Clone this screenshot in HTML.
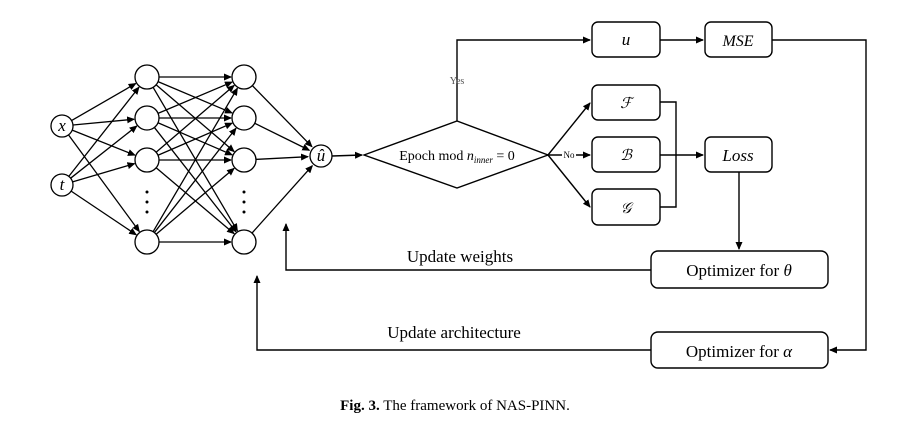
<!DOCTYPE html>
<html><head><meta charset="utf-8"><style>
body{margin:0;background:#fff;}
svg text{font-family:"Liberation Serif",serif;fill:#000;}
</style></head><body>
<svg width="909" height="436" viewBox="0 0 909 436" xmlns="http://www.w3.org/2000/svg">
<defs><marker id="ah" markerWidth="8" markerHeight="8" refX="7" refY="4" orient="auto" markerUnits="userSpaceOnUse"><path d="M0,0.5 L8,4 L0,7.5 Z" fill="#000"/></marker></defs>
<g id="net" stroke="#000" stroke-width="1.3" fill="none"></g>
<g stroke="#000" stroke-width="1.4" fill="none">
<line x1="332" y1="156" x2="362" y2="155" marker-end="url(#ah)"/>
<polygon points="364,155 457,121 548,155 457,188" fill="#fff"/>
<polyline points="457,121 457,40 590,40" marker-end="url(#ah)"/>
<line x1="548" y1="155" x2="590" y2="103" marker-end="url(#ah)"/>
<line x1="548" y1="155" x2="590" y2="155" marker-end="url(#ah)"/>
<line x1="548" y1="155" x2="590" y2="207" marker-end="url(#ah)"/>
<rect x="592" y="22" width="68" height="35" rx="6"/>
<rect x="705" y="22" width="67" height="35" rx="6"/>
<rect x="592" y="85" width="68" height="35" rx="6"/>
<rect x="592" y="137" width="68" height="35" rx="6"/>
<rect x="592" y="189" width="68" height="36" rx="6"/>
<rect x="705" y="137" width="67" height="35" rx="6"/>
<line x1="660" y1="40" x2="703" y2="40" marker-end="url(#ah)"/>
<polyline points="660,102 676,102 676,207 660,207"/>
<line x1="660" y1="155" x2="703" y2="155" marker-end="url(#ah)"/>
<line x1="739" y1="172" x2="739" y2="249" marker-end="url(#ah)"/>
<rect x="651" y="251" width="177" height="37" rx="7"/>
<rect x="651" y="332" width="177" height="36" rx="7"/>
<polyline points="772,40 866,40 866,350 830,350" marker-end="url(#ah)"/>
<polyline points="651,270 286,270 286,224" marker-end="url(#ah)"/>
<polyline points="651,350 257,350 257,276" marker-end="url(#ah)"/>
</g>
<text x="457" y="84" font-size="10" text-anchor="middle" fill="#555" style="fill:#555">Yes</text>
<rect x="562" y="150" width="14" height="10" fill="#fff"/>
<text x="569" y="158" font-size="9" text-anchor="middle">No</text>
<text x="457" y="160" font-size="14" text-anchor="middle">Epoch mod <tspan font-style="italic">n</tspan><tspan font-style="italic" font-size="9" dy="3">inner</tspan><tspan dy="-3"> = 0</tspan></text>
<text x="626" y="45" font-size="17" font-style="italic" text-anchor="middle">u</text>
<text x="738" y="46" font-size="16" font-style="italic" text-anchor="middle">MSE</text>
<text x="626" y="108" font-size="15" font-style="italic" text-anchor="middle">ℱ</text>
<text x="626" y="160" font-size="15" font-style="italic" text-anchor="middle">ℬ</text>
<text x="626" y="213" font-size="15" font-style="italic" text-anchor="middle">𝒢</text>
<text x="738" y="161" font-size="17" font-style="italic" text-anchor="middle">Loss</text>
<text x="739" y="276" font-size="17" text-anchor="middle">Optimizer for <tspan font-style="italic">θ</tspan></text>
<text x="739" y="357" font-size="17" text-anchor="middle">Optimizer for <tspan font-style="italic">α</tspan></text>
<text x="460" y="262" font-size="17" text-anchor="middle">Update weights</text>
<text x="454" y="338" font-size="17" text-anchor="middle">Update architecture</text>
<text x="455" y="410" font-size="15" text-anchor="middle"><tspan font-weight="bold">Fig. 3.</tspan>  The framework of NAS-PINN.</text>
</svg>
<script>
const ns="http://www.w3.org/2000/svg";
const g=document.getElementById('net');
const inputs=[[62,126,'x'],[62,185,'t']];
const hy=[77,118,160,242];
const L1=147,L2=244,out=[321,156];
const r=12;
function line(x1,y1,x2,y2,arrow){
 const l=document.createElementNS(ns,'line');
 const dx=x2-x1,dy=y2-y1,d=Math.hypot(dx,dy);
 l.setAttribute('x1',x1+dx/d*11);l.setAttribute('y1',y1+dy/d*11);
 l.setAttribute('x2',x2-dx/d*(r+1));l.setAttribute('y2',y2-dy/d*(r+1));
 if(arrow)l.setAttribute('marker-end','url(#ah)');
 
 
 g.appendChild(l);
}
inputs.forEach(p=>hy.forEach(y=>line(p[0],p[1],L1,y,true)));
hy.forEach(a=>hy.forEach(b=>line(L1,a,L2,b,true)));
hy.forEach(y=>line(L2,y,out[0],out[1],true));
function circ(x,y,rr,name){
 const c=document.createElementNS(ns,'circle');
 c.setAttribute('cx',x);c.setAttribute('cy',y);c.setAttribute('r',rr);c.setAttribute('fill','#fff');
 
 
 g.appendChild(c);
}
function txt(x,y,s,name){
 const t=document.createElementNS(ns,'text');
 t.setAttribute('x',x);t.setAttribute('y',y);t.setAttribute('text-anchor','middle');
 t.setAttribute('font-size','17');t.setAttribute('font-style','italic');t.setAttribute('stroke','none');
 t.textContent=s;
 
 
 g.appendChild(t);
}
inputs.forEach(p=>{circ(p[0],p[1],11,'input-node-'+p[2]);txt(p[0],p[1]+5,p[2],'input-label-'+p[2]);});
[L1,L2].forEach(x=>{hy.forEach(y=>circ(x,y,r,'hidden-node'));
 [192,202,212].forEach(y=>{const d=document.createElementNS(ns,'circle');d.setAttribute('cx',x);d.setAttribute('cy',y);d.setAttribute('r',1.5);d.setAttribute('fill','#000');d.setAttribute('stroke','none');
 
 
 g.appendChild(d);});});
circ(out[0],out[1],11,'output-node-u-hat');txt(out[0],out[1]+5,'û','output-label');
</script>
</body></html>
